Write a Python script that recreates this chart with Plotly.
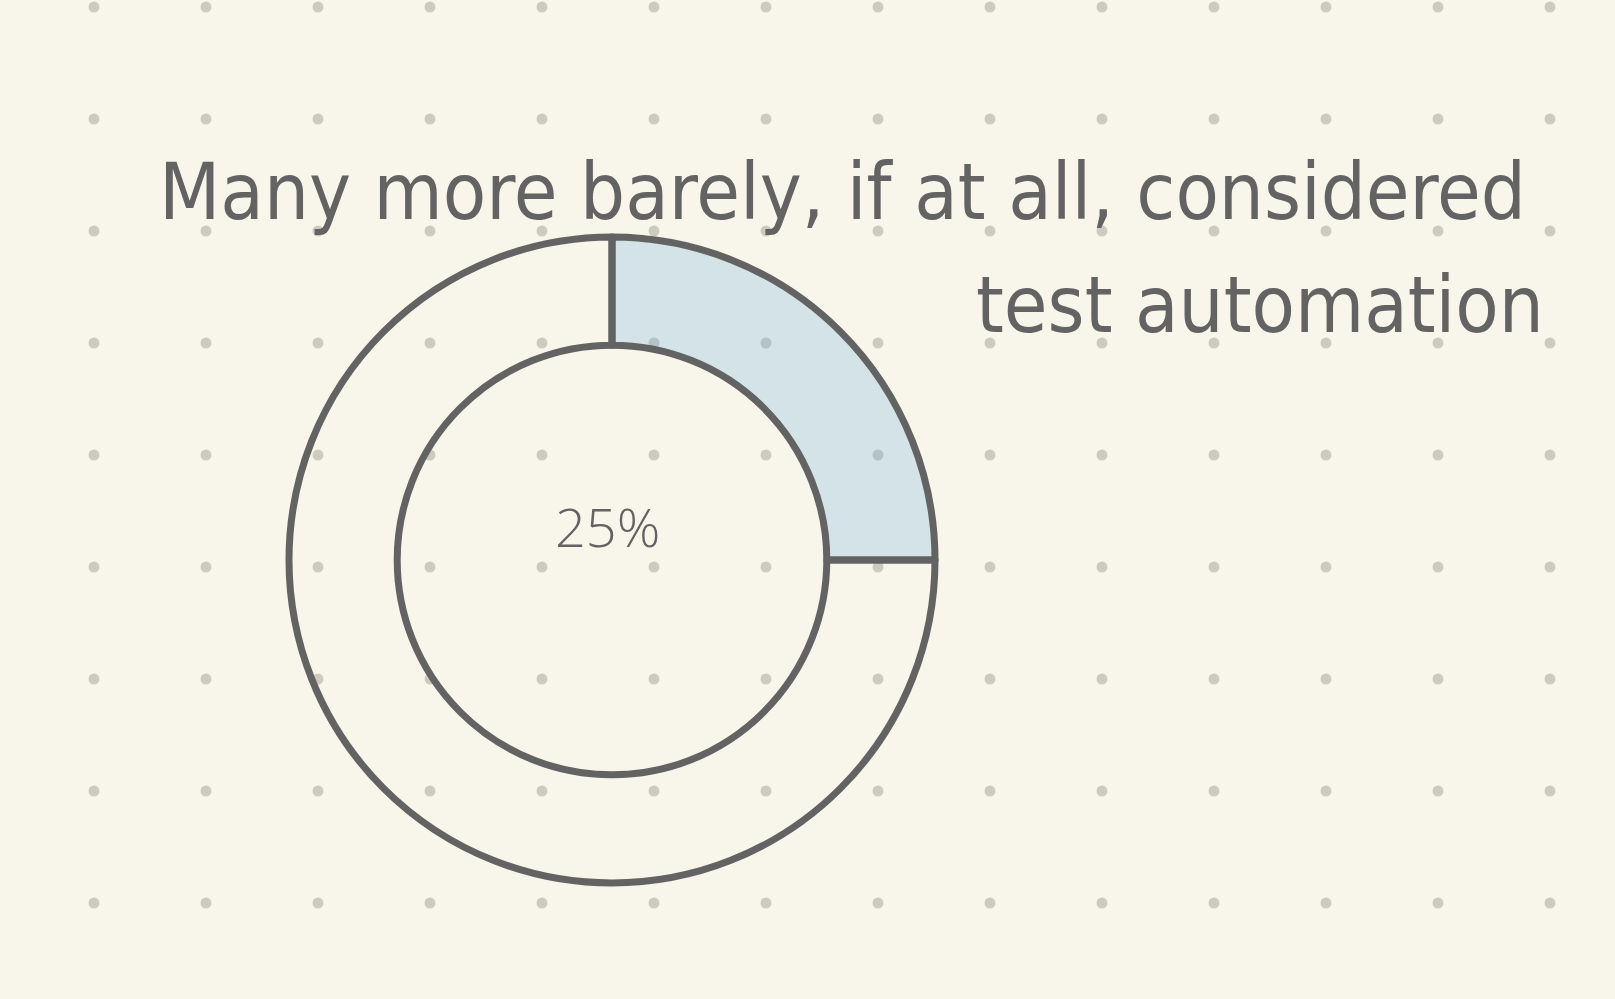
import numpy as np
import plotly.graph_objects as go

# ---- data ----
labels = ["Considered test automation", "Barely or not at all"]
values = [25, 75]
center_label = "25%"
title_lines = ["Many more barely, if at all, considered", "test automation"]

W, H = 1615, 999
BG = "#f8f6ea"
INK = "#636363"

fig = go.Figure()

# dotted paper background (decoration)
gx = np.arange(94, W, 112)
gy = np.arange(7, H, 112)
XX, YY = np.meshgrid(gx, gy)
fig.add_trace(go.Scatter(
    x=XX.ravel(), y=YY.ravel(), mode="markers",
    marker=dict(size=11, color="#cdcbc0"),
    hoverinfo="skip", showlegend=False,
))

cx, cy, R = 612, 560, 323
fig.add_trace(go.Pie(
    labels=labels, values=values, sort=False, direction="clockwise",
    rotation=0, hole=0.665, textinfo="none",
    marker=dict(colors=["rgba(104,174,226,0.26)", "rgba(0,0,0,0)"],
                line=dict(color=INK, width=7)),
    domain=dict(x=[(cx - R) / W, (cx + R) / W],
                y=[(H - cy - R) / H, (H - cy + R) / H]),
    showlegend=False,
))

TFONT = "DejaVu Sans Condensed, Liberation Sans Narrow, sans-serif"
fig.add_annotation(
    x=1528, y=240, xref="x", yref="y", xanchor="right", yanchor="bottom",
    text=title_lines[0], showarrow=False,
    font=dict(family=TFONT, size=79, color=INK),
)
fig.add_annotation(
    x=1546, y=353, xref="x", yref="y", xanchor="right", yanchor="bottom",
    text=title_lines[1], showarrow=False,
    font=dict(family=TFONT, size=79, color=INK),
)
fig.add_annotation(
    x=607, y=526, xref="x", yref="y", xanchor="center", yanchor="middle",
    text=center_label, showarrow=False,
    font=dict(family="Open Sans", size=54, color=INK, weight=300),
)

fig.update_xaxes(range=[0, W], visible=False, fixedrange=True)
fig.update_yaxes(range=[H, 0], visible=False, fixedrange=True)
fig.update_layout(
    width=W, height=H, margin=dict(l=0, r=0, t=0, b=0),
    paper_bgcolor=BG, plot_bgcolor=BG,
)
fig.write_html("out.html")
